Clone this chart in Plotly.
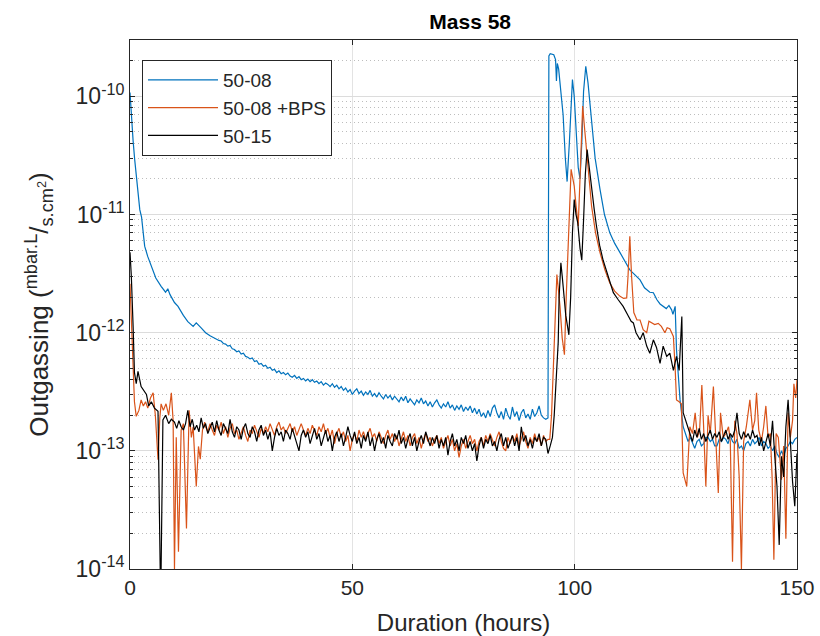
import numpy as np
import plotly.graph_objects as go

# outgassing values in units of 1e-13 mbar.L/s.cm2
UNIT = 1e-13

# ---- 50-08 (blue) ----
blue_head_t = [0, 0.2, 0.45, 0.7, 1.05, 1.5, 2.2, 2.6, 3.3, 4.0, 4.8, 5.8, 7.0, 8.0, 8.5, 9.0,
               10, 10.8, 12, 13, 14.2, 14.9, 16, 17]
blue_head_v = [1080, 800, 560, 420, 293, 190, 110, 95, 54, 44, 36.5, 29, 24.7, 22, 23.5, 21,
               18, 16.7, 14, 12.4, 11.3, 12.1, 11, 10]
blue_floor_start = 18.0   # sampled every 0.5 h
blue_floor_v = [9.4, 9.2, 9.0, 8.7, 8.6, 8.5, 8.1, 8.0, 7.7, 7.8, 7.3, 7.2, 6.9, 7.0, 6.6, 6.7,
                6.3, 6.2, 6.0, 6.1, 5.7, 5.8, 5.4, 5.5, 5.2, 5.3, 5.0, 5.1, 4.8, 4.9, 4.6, 4.75,
                4.5, 4.6, 4.4, 4.55, 4.3, 4.2, 4.35, 4.1, 4.25, 4.0, 4.1, 3.9, 4.05, 3.85, 4.0, 3.8,
                3.9, 3.7, 3.85, 3.6, 3.75, 3.65, 3.5, 3.7, 3.45, 3.6, 3.35, 3.5, 3.25, 3.4, 3.15, 3.3,
                3.0, 3.2, 3.35, 3.05, 3.2, 2.95, 3.15, 3.0, 3.25, 2.9, 3.05, 2.85, 3.1, 2.9, 2.75, 3.0,
                2.8, 2.95, 2.7, 2.9, 2.75, 2.6, 2.85, 2.65, 2.9, 2.55, 2.75, 2.6, 2.45, 2.7, 2.55, 2.8,
                2.5, 2.65, 2.4, 2.6, 2.35, 2.55, 2.7, 2.45, 2.3, 2.5, 2.35, 2.6, 2.3, 2.45, 2.2, 2.4,
                2.25, 2.45, 2.15, 2.35, 2.2, 2.4, 2.1, 2.3, 2.05, 2.25, 1.95, 2.1, 1.9, 2.2, 1.95, 2.3,
                2.45, 2.1, 1.9, 2.15, 1.85, 2.3, 2.0, 1.85, 2.35, 1.95, 2.15, 1.8, 2.1, 2.25, 1.9, 2.05,
                1.85, 2.25, 1.95, 2.1, 2.4, 2.0, 1.9, 1.85, 1.9]
blue_peak_t = [94.2, 94.5, 95.3, 95.7, 95.9, 96.1, 96.4, 97.0, 97.4, 97.9, 98.3, 98.8, 99.2, 99.5,
               99.9, 100.4, 100.8, 101.2, 101.6, 102.0, 102.5, 103.0, 103.8, 104.6, 105.7, 106.7,
               107.9, 109.0, 110.2, 111.3, 112.4, 113.5, 114.7, 115.7, 116.9, 117.7, 118.5, 119.2,
               119.9, 120.6, 121.2, 121.8, 122.1, 122.6, 122.9, 123.3, 123.7, 124.4, 125.0, 125.5]
blue_peak_v = [2200, 2300, 2250, 2050, 1350, 1900, 1700, 1000, 700, 300, 190, 400, 1000, 1390,
               1000, 450, 250, 200, 400, 1100, 1800, 1300, 600, 300, 163, 100,
               70, 57, 47.6, 40, 34, 31, 28, 24, 22, 21.8, 19, 17.5,
               16.7, 16, 17, 15.6, 14.3, 16.7, 7.2, 4, 2.7, 1.6, 1.35, 1.2]
blue_tail_start = 126.0
blue_tail_v = [1.3, 1.15, 1.05, 1.2, 1.25, 1.1, 1.15, 1.3, 1.3, 1.2, 1.25, 1.1, 1.1, 1.25, 1.2, 1.3,
               1.25, 1.15, 1.35, 1.2, 1.15, 1.25, 1.05, 1.1, 1.0, 1.15, 1.2, 1.1, 1.25, 1.15, 1.2, 1.3,
               1.1, 1.2, 1.15, 1.05, 1.1, 1.0, 1.1, 0.95, 0.88, 1.0, 0.9, 1.05, 1.1, 1.2, 1.15, 1.25, 1.3]

# ---- 50-08 +BPS (orange) ----
orange_head_t = [0, 0.3, 0.6, 1.0, 1.4, 2.0, 2.5, 3.0, 3.5, 4.0, 4.6, 5.2, 5.7, 6.3, 6.7, 7.0, 7.5,
                 8.1, 8.7, 9.3, 9.7, 10.0, 10.4, 10.9, 11.5, 12.0, 12.7, 13.3, 13.8, 14.2, 14.9,
                 15.4, 15.8, 16.3, 16.8]
orange_head_v = [26, 12, 5.9, 2.6, 1.96, 2.2, 2.7, 2.4, 2.6, 2.3, 2.8, 3.1, 2.0, 0.84, 1.9, 2.5, 2.2,
                 2.5, 2.0, 3.1, 1.8, 0.1, 1.3, 0.14, 1.5, 1.7, 0.22, 2.2, 1.3, 1.6, 0.5,
                 1.09, 0.85, 1.5, 1.75]
orange_floor_start = 17.0
orange_floor_v = [1.6, 1.45, 1.7, 1.5, 1.35, 1.65, 1.5, 1.75, 1.4, 1.6, 1.3, 1.55, 1.7, 1.4, 1.5, 1.25,
                  1.45, 1.6, 1.35, 1.2, 1.5, 1.4, 1.65, 1.45, 1.3, 1.55, 1.4, 1.6, 1.45, 1.7, 1.5, 1.35,
                  1.6, 1.75, 1.5, 1.6, 1.4, 1.55, 1.7, 1.45, 1.6, 1.35, 1.55, 1.7, 1.5, 1.35, 1.55, 1.4,
                  1.65, 1.5, 1.35, 1.6, 1.45, 1.7, 1.4, 1.55, 1.3, 1.5, 1.15, 1.4, 1.55, 1.3, 1.45, 1.2,
                  1.35, 1.0, 1.25, 1.4, 1.2, 1.5, 1.3, 1.45, 1.25, 1.4, 1.55, 1.3, 1.4, 1.2, 1.45, 1.3,
                  1.15, 1.35, 1.5, 1.25, 1.4, 1.2, 1.35, 1.1, 1.3, 1.45, 1.2, 1.35, 1.1, 1.3, 1.4, 1.15,
                  1.3, 1.05, 1.25, 1.4, 1.2, 1.3, 1.1, 1.25, 1.35, 1.15, 1.3, 1.05, 1.2, 1.35, 1.1, 1.25,
                  1.0, 1.15, 0.88, 1.1, 1.25, 1.05, 1.2, 1.35, 1.15, 1.25, 1.0, 1.2, 1.3, 1.1, 1.35, 1.2,
                  1.4, 1.25, 1.1, 1.3, 1.45, 1.2, 1.05, 1.0, 1.3, 1.15, 1.35, 1.2, 1.4, 1.1, 1.3, 1.45,
                  1.2, 1.05, 1.3, 1.15, 1.4, 1.2, 1.3, 1.1, 1.35, 1.2, 1.25]
orange_peak_t = [94.4, 94.8, 95.2, 95.6, 96.0, 96.4, 96.7, 97.2, 97.7, 98.1, 98.6, 99.2, 99.6, 99.9,
                 100.3, 100.8, 101.2, 101.5, 101.8, 102.2, 102.7, 103.2, 103.8, 104.7, 105.7, 106.8,
                 107.9, 109.0, 110.2, 111.0, 111.7, 112.0, 112.4, 112.8, 113.3, 114.0, 114.7, 115.4,
                 116.2, 116.7, 117.3, 118.0, 118.8, 119.5, 120.3, 120.8, 121.4, 122.2, 122.6, 122.9,
                 123.5, 124.0, 124.4, 125.2, 125.9]
orange_peak_v = [1.25, 2.0, 4.6, 12, 31, 22, 16.7, 9, 6.5, 20, 61, 241, 200, 174,
                 120, 80, 200, 500, 827, 550, 335, 190, 118, 70, 47.6, 34,
                 26.3, 22.5, 20.3, 19.5, 19.7, 30, 65.5, 30, 14.8, 12.8, 12.8, 10.6,
                 10, 12.5, 12.1, 11.7, 12, 11.3, 10, 11, 10.8, 9.3, 5, 2.7,
                 2.6, 2.5, 0.65, 0.5, 1.6]
orange_tail_t = [126.5, 127.1, 127.6, 128.1, 128.6, 129.0, 129.5, 130.0, 130.5, 131.2, 131.7, 132.3,
                 132.8, 133.4, 134.0, 134.6, 135.0, 135.5, 136.0, 136.5, 137.0, 137.5, 138.0, 138.6,
                 139.4, 140.0, 140.5, 140.9, 141.4, 142.0, 142.5, 143.0, 143.5, 144.0, 144.4, 144.8,
                 145.3, 145.8, 146.5, 147.0, 147.5, 148.0, 148.5, 149.0, 149.3, 149.7, 150.0]
orange_tail_v = [1.4, 2.1, 1.3, 1.5, 3.6, 1.6, 0.5, 2.0, 1.4, 3.5, 1.5, 0.44,
                 2.1, 1.3, 1.4, 1.6, 1.2, 0.115, 1.8, 1.4, 0.6, 0.1, 1.2, 1.6,
                 2.7, 1.5, 1.8, 3.1, 1.5, 1.2, 1.6, 2.4, 1.3, 1.4, 0.6, 0.12,
                 1.4, 1.3, 0.57, 1.1, 0.18, 2.1, 1.3, 1.8, 3.7, 2.8, 4.0]

# ---- 50-15 (black) ----
black_head_t = [0, 0.3, 0.7, 1.0, 1.4, 1.8, 2.5, 3.0, 3.7, 4.2, 4.8, 5.5, 6.3, 6.9, 7.4, 8.0, 8.7, 9.3]
black_head_v = [48, 30, 11.3, 4.6, 3.7, 4.7, 3.5, 3.3, 3.0, 2.4, 2.6, 2.3, 2.16, 0.05, 1.83, 2.0, 1.7, 1.85]
black_floor_start = 10.0
black_floor_v = [1.75, 1.55, 1.8, 1.6, 1.5, 1.7, 2.2, 1.6, 1.85, 1.5, 1.65, 1.45, 1.9, 1.55, 1.7, 1.4,
                 1.6, 1.75, 1.45, 1.8, 1.5, 1.35, 1.7, 1.55, 1.4, 1.85, 1.45, 1.3, 1.6, 1.5, 1.25, 1.55,
                 1.7, 1.4, 1.3, 1.6, 1.45, 1.2, 1.5, 1.65, 1.35, 1.5, 1.25, 1.45, 1.0, 1.3, 1.55, 1.35,
                 1.45, 1.2, 1.5, 1.4, 1.25, 1.55, 1.35, 1.15, 1.0, 1.35, 1.5, 1.3, 1.45, 1.15, 1.35, 1.55,
                 1.25, 1.4, 1.1, 1.3, 1.5, 1.2, 1.35, 1.0, 1.3, 1.45, 1.2, 1.4, 1.1, 1.3, 1.6, 1.35,
                 1.2, 1.45, 1.15, 1.3, 1.05, 1.35, 1.2, 1.45, 1.1, 1.3, 1.0, 1.25, 1.4, 1.15, 1.3, 1.05,
                 1.35, 1.2, 1.1, 1.4, 1.25, 1.5, 1.15, 1.3, 1.05, 1.25, 1.4, 1.1, 1.3, 1.0, 1.2, 1.35,
                 1.15, 1.45, 1.25, 1.1, 1.3, 1.15, 1.35, 1.05, 1.25, 1.1, 1.3, 0.92, 1.2, 1.4, 1.1, 1.25,
                 1.0, 1.3, 1.15, 1.35, 1.05, 1.2, 1.0, 1.15, 0.82, 1.1, 1.3, 1.05, 1.25, 1.15, 1.35, 1.1,
                 1.2, 1.0, 1.25, 1.4, 1.1, 1.3, 1.05, 1.2, 1.35, 1.1, 1.3, 1.0, 1.6, 1.2, 1.35, 1.1,
                 1.25, 1.05, 1.3, 1.2, 1.4, 1.1, 1.3, 1.25, 0.95]
black_peak_t = [94.5, 95.0, 95.4, 95.8, 96.3, 96.5, 96.9, 97.2, 97.6, 98.0, 98.7, 99.1, 99.5, 99.9,
                100.3, 100.7, 101.2, 101.6, 102.0, 102.4, 102.8, 103.2, 103.8, 104.4, 104.9, 105.6,
                106.4, 107.5, 108.7, 109.8, 110.9, 112.0, 112.7, 113.2, 113.8, 114.7, 115.4, 116.2,
                116.9, 117.7, 118.4, 119.2, 119.9, 120.7, 121.4, 122.2, 122.9, 123.5, 124.1, 124.4,
                125.0, 125.6]
black_peak_v = [1.1, 1.3, 2.0, 4.0, 8.3, 20, 39, 30, 20, 14, 9.6, 20, 70, 134,
                100, 85, 52, 41, 90, 220, 355, 260, 163, 110, 80, 55,
                41, 30, 21.8, 19, 16.7, 14, 12.5, 12.1, 10, 8.7, 10, 7.7,
                6.7, 8.7, 7.5, 5.5, 7.7, 6.3, 6.7, 4.8, 6.3, 4.8, 13.7, 2.1,
                1.8, 1.5]
black_tail_start = 126.0
black_tail_v = [1.4, 1.2, 1.5, 1.3, 1.55, 1.25, 1.4, 1.2, 1.35, 1.5, 1.25, 1.4, 1.3, 1.45, 1.2, 1.35,
                1.5, 1.25, 1.4, 1.3, 1.5, 2.1, 1.4, 1.25, 1.45, 1.3, 1.4, 1.25, 1.5, 1.3, 1.35, 1.1,
                1.3, 1.0, 1.2, 1.4, 1.1, 1.8, 0.9, 0.5, 0.16, 0.9, 0.6, 1.6, 2.7, 1.2, 0.55, 0.34, 0.95]


def regular(start, vals, step=0.5):
    return [start + step * i for i in range(len(vals))]


series = [
    ("50-08", "#0072BD",
     blue_head_t + regular(blue_floor_start, blue_floor_v) + blue_peak_t + regular(blue_tail_start, blue_tail_v),
     blue_head_v + blue_floor_v + blue_peak_v + blue_tail_v),
    ("50-08 +BPS", "#D95319",
     orange_head_t + regular(orange_floor_start, orange_floor_v) + orange_peak_t + orange_tail_t,
     orange_head_v + orange_floor_v + orange_peak_v + orange_tail_v),
    ("50-15", "#000000",
     black_head_t + regular(black_floor_start, black_floor_v) + black_peak_t + regular(black_tail_start, black_tail_v),
     black_head_v + black_floor_v + black_peak_v + black_tail_v),
]

fig = go.Figure()
for name, color, t, v in series:
    fig.add_trace(go.Scatter(x=t, y=[val * UNIT for val in v], name=name, mode="lines",
                             line=dict(color=color, width=1.2)))

axis_col = "#262626"
ytick_vals = [1e-14, 1e-13, 1e-12, 1e-11, 1e-10]
ytick_text = ["10<sup>-14</sup>", "10<sup>-13</sup>", "10<sup>-12</sup>", "10<sup>-11</sup>", "10<sup>-10</sup>"]
yminor_vals = [k * 10.0 ** e for e in range(-14, -9) for k in range(2, 10)]

fig.update_layout(
    width=820, height=636,
    margin=dict(l=130, r=23, t=40, b=67),
    paper_bgcolor="white", plot_bgcolor="white",
    font=dict(family="Liberation Sans, Arial, sans-serif", size=21, color=axis_col),
    title=dict(text="<b>Mass 58</b>", xref="paper", x=0.51, xanchor="center", y=0.966, yanchor="middle",
               font=dict(size=21, color="black")),
    legend=dict(x=0.018, y=0.962, xanchor="left", yanchor="top", bgcolor="white",
                bordercolor=axis_col, borderwidth=1, font=dict(size=19, color=axis_col),
                itemwidth=70, tracegroupgap=0),
    showlegend=True,
)
fig.update_xaxes(
    range=[0, 150], tickvals=[0, 50, 100, 150], showline=True, linecolor=axis_col, linewidth=1,
    mirror="ticks", ticks="inside", ticklen=5, tickcolor=axis_col, showgrid=True,
    gridcolor="#e3e3e3", gridwidth=1, zeroline=False, tickfont=dict(size=21), automargin=False,
    title=dict(text="Duration (hours)", font=dict(size=24), standoff=16),
)
fig.update_yaxes(
    type="log", range=[-14, np.log10(3e-10)], tickvals=ytick_vals, ticktext=ytick_text,
    showline=True, linecolor=axis_col, linewidth=1, mirror="ticks", ticks="inside", ticklen=5,
    tickcolor=axis_col, showgrid=True, gridcolor="#dcdcdc", gridwidth=1, zeroline=False,
    tickfont=dict(size=23), automargin=False,
    minor=dict(tickvals=yminor_vals, ticks="inside", ticklen=3, tickcolor=axis_col, showgrid=True,
               gridcolor="#bdbdbd", griddash="1px,3px", gridwidth=1),
    title=dict(text="Outgassing (<sup>mbar.L</sup>/<sub>s.cm<sup>2</sup></sub>)",
               font=dict(size=26), standoff=19),
)

fig.write_html("out.html", config={"displayModeBar": False},
               post_script="document.body.style.margin='0px';document.body.style.overflow='hidden';")
